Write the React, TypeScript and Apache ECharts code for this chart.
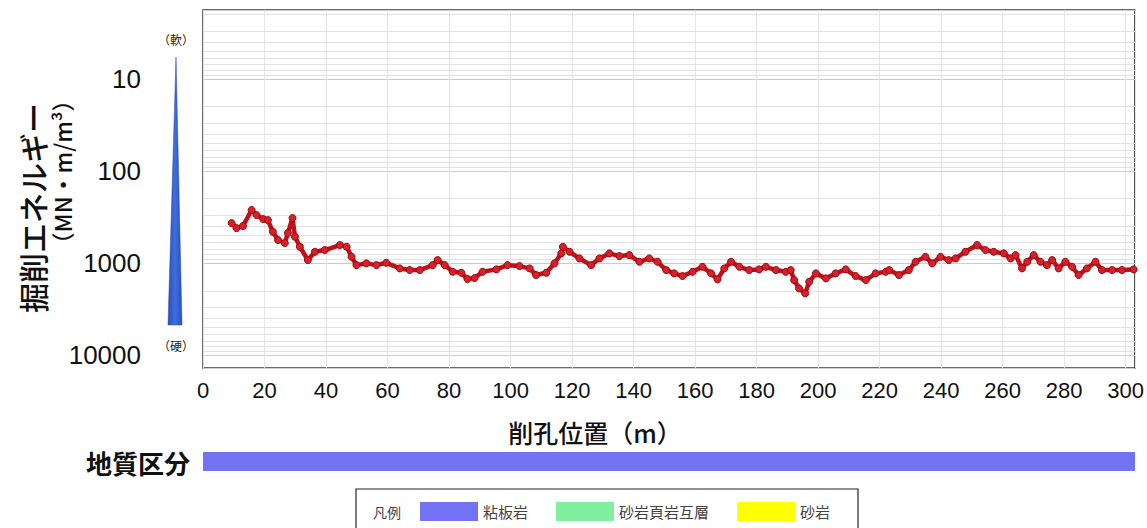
import React, { useEffect, useRef } from "react";
import * as echarts from "echarts";

// 削孔位置 (m)
const positions = [
  9.3, 10.9, 13.0, 15.8, 17.4, 19.6, 21.1, 22.7, 24.4, 26.6, 27.6, 29.1, 29.9, 31.5, 34.1, 36.4, 39.6, 44.5, 46.7, 48.3,
  49.9, 53.1, 56.4, 59.6, 64.0, 67.2, 70.5, 74.7, 76.3, 78.6, 81.2, 84.0, 86.0, 88.3, 90.9, 95.4, 99.0, 102.9, 106.2, 108.3,
  111.6, 114.3, 116.5, 117.0, 119.2, 122.4, 126.2, 128.9, 132.1, 135.4, 138.6, 141.9, 145.1, 147.8, 150.6, 153.2, 155.9, 159.2, 162.4, 165.2,
  167.3, 169.5, 171.7, 174.4, 177.6, 180.8, 183.0, 186.3, 189.5, 191.1, 192.2, 193.8, 195.8, 197.1, 199.3, 202.5, 205.7, 209.0, 212.2, 215.5,
  218.7, 222.0, 223.1, 226.3, 229.5, 231.7, 234.9, 237.1, 239.8, 242.5, 244.7, 247.9, 251.7, 254.4, 257.1, 260.4, 262.6, 264.2, 266.3, 268.0,
  270.1, 272.3, 274.4, 276.1, 278.2, 280.4, 282.6, 284.7, 287.4, 290.2, 292.3, 295.6, 298.8, 302.6,
];

// 掘削エネルギー (MN・m/m³)
const energies = [
  368, 417, 396, 265, 301, 333, 341, 457, 562, 606, 472, 324, 518, 665, 928, 754, 722, 637, 665, 855,
  1052, 1007, 1052, 993, 1143, 1191, 1191, 1052, 928, 1052, 1244, 1275, 1492, 1455, 1244, 1171, 1052, 1078, 1143, 1349,
  1275, 1007, 785, 665, 754, 890, 1052, 890, 785, 840, 819, 968, 890, 968, 1191, 1294, 1383, 1244, 1097, 1294,
  1503, 1143, 968, 1097, 1191, 1171, 1097, 1191, 1244, 1191, 1530, 1884, 2135, 1597, 1294, 1466, 1294, 1171, 1383, 1530,
  1294, 1244, 1191, 1349, 1191, 968, 855, 1007, 855, 928, 890, 754, 637, 722, 754, 785, 890, 819, 1143, 968,
  819, 968, 1052, 928, 1143, 968, 1097, 1349, 1143, 968, 1191, 1191, 1191, 1171,
];

const yTickValues = [10, 100, 1000, 10000];
const minorGridValues = [
  2, 3, 4, 5, 6, 7, 8, 9,
  20, 30, 40, 50, 60, 70, 80, 90,
  200, 300, 400, 500, 600, 700, 800, 900,
  2000, 3000, 4000, 5000, 6000, 7000, 8000, 9000,
];

// 地質区分
const geologyTypes = ["粘板岩", "砂岩頁岩互層", "砂岩"];
const geologyColors = ["#7272f2", "#80f0a0", "#ffff00"];
const geologySegments = [{ start: 0, end: 303, type: "粘板岩" }];

const xMin = 0;
const xMax = 303;

export default function App() {
  const ref = useRef<HTMLDivElement>(null);

  useEffect(() => {
    if (!ref.current) return;
    document.body.style.margin = "0";
    document.body.style.overflow = "hidden";
    const chart = echarts.init(ref.current, null, { renderer: "svg" });

    const lineData = positions.map((p, i) => [p, energies[i]]);
    const sans = "'Liberation Sans', Arial, sans-serif";
    const jp = "'Noto Sans CJK JP', 'Noto Sans', sans-serif";

    const geoSeries = geologyTypes.map((t, k) => ({
      type: "custom",
      name: t,
      xAxisIndex: 1,
      yAxisIndex: 1,
      itemStyle: { color: geologyColors[k] },
      data: geologySegments.filter((s) => s.type === t).map((s) => [s.start, s.end]),
      renderItem: (params: any, api: any) => {
        const a = api.coord([api.value(0), 0]);
        const b = api.coord([api.value(1), 0]);
        const cs = params.coordSys;
        return {
          type: "rect",
          shape: { x: a[0], y: cs.y, width: b[0] - a[0], height: cs.height },
          style: { fill: geologyColors[k] },
        };
      },
    }));

    chart.setOption({
      animation: false,
      backgroundColor: "#ffffff",
      grid: [
        {
          left: 203,
          right: 12,
          top: 10,
          bottom: 160,
          show: true,
          borderColor: "#3a3a3a",
          borderWidth: 1.5,
          backgroundColor: "transparent",
        },
        { left: 203, right: 12, top: 452, height: 19 },
      ],
      legend: {
        left: 420,
        top: 502,
        padding: 0,
        itemWidth: 58,
        itemHeight: 19,
        itemGap: 28,
        selectedMode: false,
        icon: "rect",
        textStyle: { fontFamily: jp, fontSize: 15, color: "#444" },
        data: geologyTypes,
      },
      xAxis: [
        {
          type: "value",
          gridIndex: 0,
          min: xMin,
          max: xMax,
          interval: 20,
          axisLine: { show: false },
          axisTick: { show: false },
          axisLabel: {
            margin: 11,
            fontFamily: sans,
            fontSize: 22,
            color: "#111",
            formatter: (v: number) => (v % 20 === 0 ? String(v) : ""),
          },
          splitLine: { show: true, lineStyle: { color: "#e4e4e4", width: 1 } },
        },
        {
          type: "value",
          gridIndex: 1,
          min: xMin,
          max: xMax,
          show: false,
        },
      ],
      yAxis: [
        {
          type: "log",
          gridIndex: 0,
          logBase: 10,
          min: 1.78,
          max: 13800,
          inverse: true,
          axisLine: { show: false },
          axisTick: { show: false },
          axisLabel: {
            margin: 62,
            fontFamily: sans,
            fontSize: 26,
            color: "#111",
            formatter: (v: number) => {
              const r = Math.round(v);
              return yTickValues.includes(r) && Math.abs(v - r) < 1e-6 * r + 1e-6 ? String(r) : "";
            },
          },
          splitLine: { show: true, lineStyle: { color: "#cccccc", width: 1 } },
        },
        {
          type: "value",
          gridIndex: 1,
          min: 0,
          max: 1,
          show: false,
        },
      ],
      series: [
        {
          type: "line",
          name: "掘削エネルギー",
          xAxisIndex: 0,
          yAxisIndex: 0,
          data: lineData,
          symbol: "circle",
          symbolSize: 7,
          lineStyle: { color: "#c0101a", width: 4.5 },
          itemStyle: { color: "#d8202a", borderColor: "#9a0a10", borderWidth: 1 },
          z: 5,
          markLine: {
            silent: true,
            symbol: "none",
            label: { show: false },
            lineStyle: { color: "#e2e2e2", width: 1, type: "solid" },
            data: minorGridValues.map((v) => ({ yAxis: v })),
            z: 1,
          },
        },
        ...geoSeries,
      ],
      graphic: [
        {
          type: "polygon",
          shape: { points: [[176, 57], [182, 325], [168, 325]] },
          style: {
            fill: new echarts.graphic.LinearGradient(0, 0, 1, 0, [
              { offset: 0, color: "#2a4fb8" },
              { offset: 0.5, color: "#3f6ee0" },
              { offset: 1, color: "#2a4fb8" },
            ]),
            stroke: "#2848a8",
            lineWidth: 0.5,
          },
        },
        {
          type: "text",
          x: 176,
          y: 39,
          style: { text: "（軟）", fontFamily: jp, fontSize: 12, fill: "#222", align: "center", verticalAlign: "middle" },
        },
        {
          type: "text",
          x: 176,
          y: 345,
          style: { text: "（硬）", fontFamily: jp, fontSize: 12, fill: "#222", align: "center", verticalAlign: "middle" },
        },
        {
          type: "text",
          x: 32,
          y: 208,
          rotation: Math.PI / 2,
          style: {
            text: "掘削エネルギー",
            fontFamily: jp,
            fontSize: 30,
            fontWeight: 500,
            fill: "#111",
            align: "center",
            verticalAlign: "middle",
          },
        },
        {
          type: "text",
          x: 62,
          y: 172,
          rotation: Math.PI / 2,
          style: {
            text: "（MN・m/m³）",
            fontFamily: jp,
            fontSize: 23,
            fontWeight: 500,
            fill: "#111",
            align: "center",
            verticalAlign: "middle",
          },
        },
        {
          type: "text",
          x: 595,
          y: 432,
          style: {
            text: "削孔位置（m）",
            fontFamily: jp,
            fontSize: 25,
            fontWeight: 500,
            fill: "#111",
            align: "center",
            verticalAlign: "middle",
          },
        },
        {
          type: "text",
          x: 190,
          y: 462,
          style: {
            text: "地質区分",
            fontFamily: jp,
            fontSize: 26,
            fontWeight: "bold",
            fill: "#111",
            align: "right",
            verticalAlign: "middle",
          },
        },
        {
          type: "rect",
          shape: { x: 356, y: 489, width: 502, height: 50 },
          style: { fill: "none", stroke: "#222", lineWidth: 1.2 },
        },
        {
          type: "text",
          x: 373,
          y: 512,
          style: { text: "凡例", fontFamily: jp, fontSize: 14, fill: "#444", align: "left", verticalAlign: "middle" },
        },
      ],
    });

    return () => chart.dispose();
  }, []);

  return <div ref={ref} style={{ position: "absolute", left: 0, top: 0, width: 1147, height: 528 }} />;
}
